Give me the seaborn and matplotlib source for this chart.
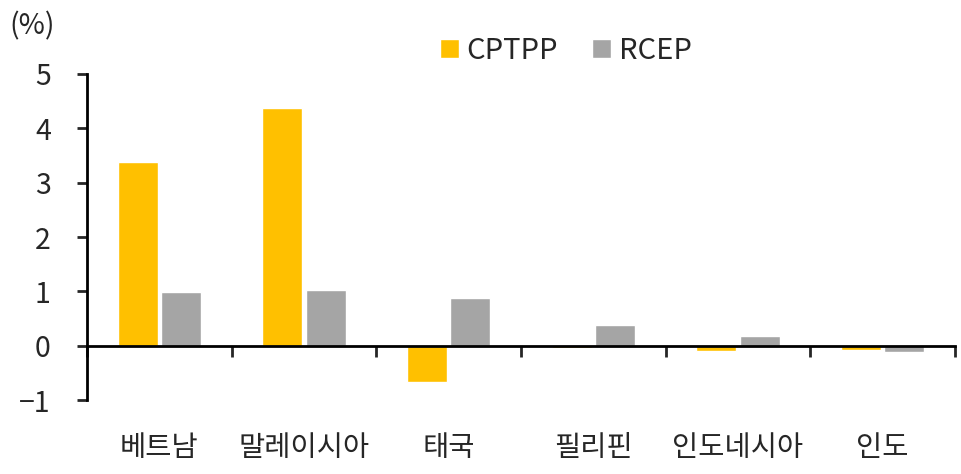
import numpy as np
import pandas as pd
import seaborn as sns
import matplotlib.pyplot as plt
from matplotlib.patches import Patch

sns.set_style("white")
plt.rcParams['font.family'] = ['Noto Sans CJK KR', 'DejaVu Sans']

countries = ["베트남", "말레이시아", "태국", "필리핀", "인도네시아", "인도"]
cptpp = [3.38, 4.38, -0.66, -0.04, -0.09, -0.08]
rcep = [0.98, 1.03, 0.88, 0.39, 0.18, -0.12]
series = ["CPTPP", "RCEP"]
colors = {"CPTPP": "#FFC000", "RCEP": "#A5A5A5"}
yticks = [-1, 0, 1, 2, 3, 4, 5]

df = pd.DataFrame({
    "country": countries * 2,
    "value": cptpp + rcep,
    "agreement": ["CPTPP"] * len(countries) + ["RCEP"] * len(countries),
})

fig = plt.figure(figsize=(9.62, 4.74), dpi=100)
ax = fig.add_axes([0.0904, 0.156, 0.9023, 0.688])

sns.barplot(data=df, x="country", y="value", hue="agreement", order=countries,
            hue_order=series, palette=colors, width=0.6, gap=0.08,
            saturation=1, ax=ax, legend=False)

ax.set_xlim(-0.5, len(countries) - 0.5)
ax.set_ylim(-1, 5)
ax.set_yticks(yticks)
ax.set_yticklabels([str(t).replace("-", "\u2212") for t in yticks])
ax.set_xlabel("")
ax.set_ylabel("")

for s in ["top", "right"]:
    ax.spines[s].set_visible(False)
ax.spines["bottom"].set_position(("data", 0))
for s in ["bottom", "left"]:
    ax.spines[s].set_linewidth(2)
    ax.spines[s].set_color("black")

ax.tick_params(axis="y", left=True, direction="out", length=7, width=2,
               labelsize=20.5, pad=19)
ax.tick_params(axis="x", which="major", bottom=True, length=0, labelsize=20.5, pad=63)
ax.set_xticks(np.arange(-0.5, len(countries), 1.0), minor=True)
ax.tick_params(axis="x", which="minor", bottom=True, direction="out", length=8, width=2)

handles = [Patch(facecolor=colors[s], label=s) for s in series]
fig.legend(handles=handles, loc="center", bbox_to_anchor=(0.588, 0.893), ncol=2,
           frameon=False, fontsize=21, handlelength=0.65, handleheight=0.65,
           handletextpad=0.25, columnspacing=1.2)

fig.text(0.01, 0.945, "(%)", fontsize=20.5, va="center", ha="left")

plt.savefig("out.png", dpi=100)
plt.close()
